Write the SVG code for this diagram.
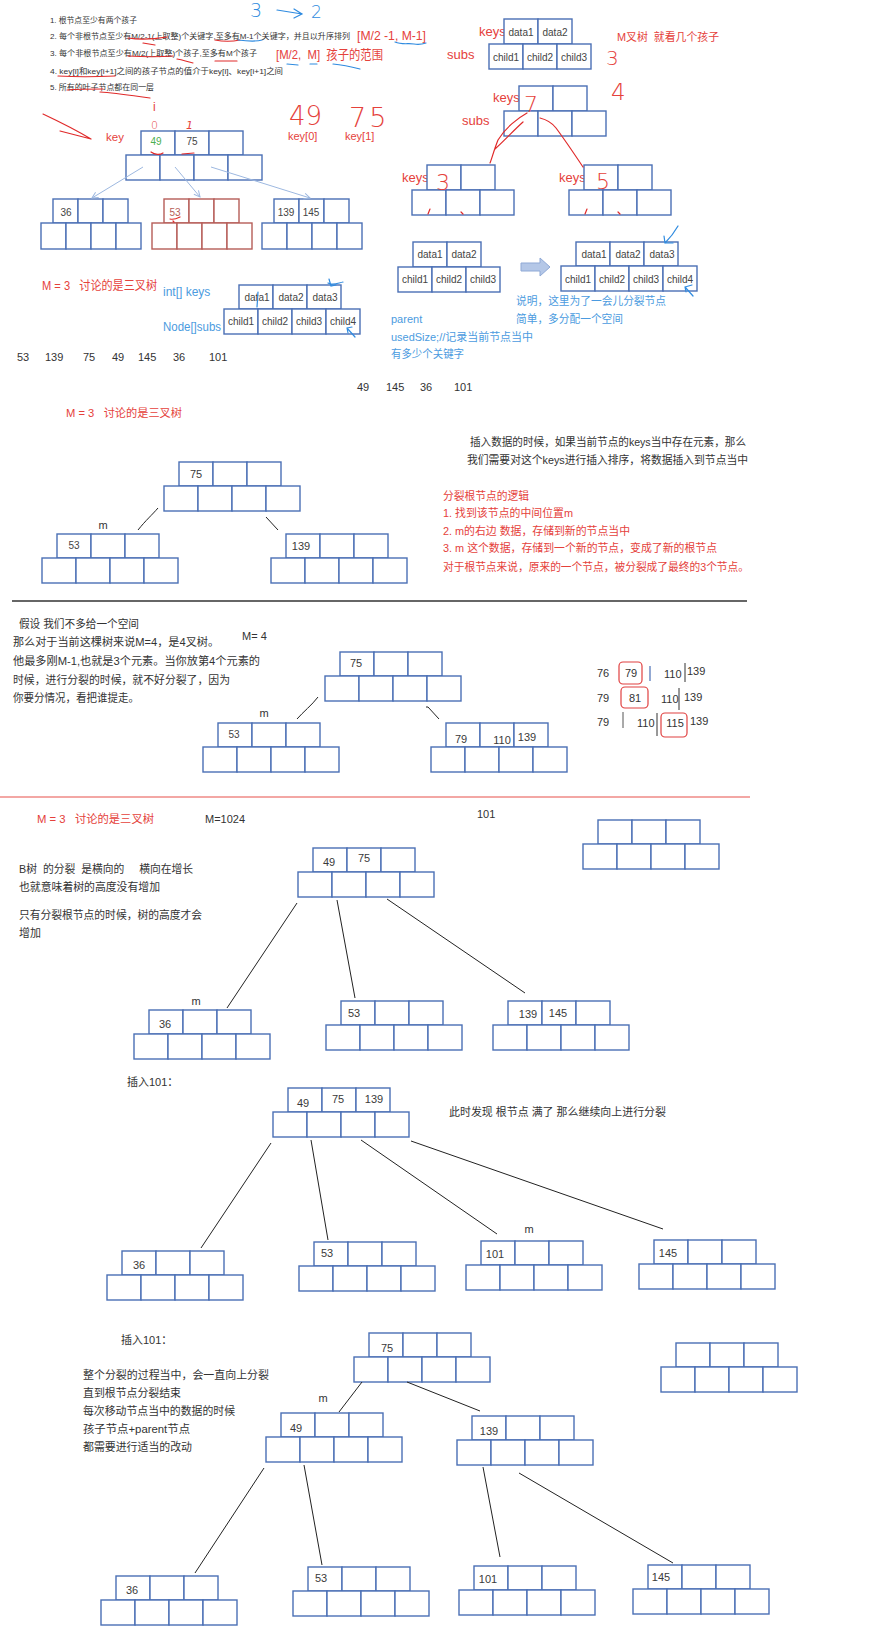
<svg xmlns="http://www.w3.org/2000/svg" width="890" height="1640" viewBox="0 0 890 1640">
<style>
text{font-family:'Liberation Sans','Noto Sans CJK SC',sans-serif;}
.d{fill:#333;font-size:11px}
.g{fill:#333;font-size:8px}
.r{fill:#e5413b}
.bl{fill:#4b9be0}
.hw{font-family:'DejaVu Sans','Liberation Sans',sans-serif;font-weight:200}
.nb{stroke:#4a6fb5;stroke-width:1.4}
.nr{stroke:#b65d58;stroke-width:1.4}
.v{font-size:11px;fill:#3a3a3a;text-anchor:middle}
.s{font-size:10px;fill:#444;text-anchor:middle}
.hr{fill:none;stroke:#e02a2a;stroke-width:1.2;stroke-linecap:round}
.hb{fill:none;stroke:#2f8be0;stroke-width:1.2;stroke-linecap:round}
.cn{fill:none;stroke:#222;stroke-width:1}
.ca{fill:none;stroke:#9db8e0;stroke-width:1}
.rb{fill:none;stroke:#e04040;stroke-width:1.2}
</style>
<defs>
<g id="n34" fill="#fff">
<rect x="15" y="0" width="34" height="24"/><rect x="49" y="0" width="34" height="24"/><rect x="83" y="0" width="34" height="24"/>
<rect x="0" y="24" width="34" height="25"/><rect x="34" y="24" width="34" height="25"/><rect x="68" y="24" width="34" height="25"/><rect x="102" y="24" width="34" height="25"/>
</g>
<g id="n23" fill="#fff">
<rect x="15" y="0" width="34" height="25"/><rect x="49" y="0" width="34" height="25"/>
<rect x="0" y="25" width="34" height="25"/><rect x="34" y="25" width="34" height="25"/><rect x="68" y="25" width="34" height="25"/>
</g>
<g id="n34s" fill="#fff">
<rect x="12" y="0" width="25" height="24"/><rect x="37" y="0" width="25" height="24"/><rect x="62" y="0" width="25" height="24"/>
<rect x="0" y="24" width="25" height="26"/><rect x="25" y="24" width="25" height="26"/><rect x="50" y="24" width="25" height="26"/><rect x="75" y="24" width="25" height="26"/>
</g>
<marker id="ah" markerWidth="8" markerHeight="8" refX="7" refY="4" orient="auto" markerUnits="userSpaceOnUse">
<path d="M1,1 L7,4 L1,7" fill="none" stroke="#9db8e0" stroke-width="1"/>
</marker>
</defs>
<rect width="890" height="1640" fill="#fff"/>

<!-- ===== top-left rules ===== -->
<g id="rules">
<text class="g" x="50" y="22.5" textLength="87" lengthAdjust="spacingAndGlyphs">1. 根节点至少有两个孩子</text>
<text class="g" x="50" y="38.5" font-size="7.7" textLength="300" lengthAdjust="spacingAndGlyphs">2. 每个非根节点至少有M/2-1(上取整)个关键字,至多有M-1个关键字，并且以升序排列</text>
<text class="g" x="50" y="55.5" textLength="207" lengthAdjust="spacingAndGlyphs">3. 每个非根节点至少有M/2(上取整)个孩子,至多有M个孩子</text>
<text class="g" x="50" y="73.5" textLength="233" lengthAdjust="spacingAndGlyphs">4. key[i]和key[i+1]之间的孩子节点的值介于key[i]、key[i+1]之间</text>
<text class="g" x="50" y="89.5" textLength="104" lengthAdjust="spacingAndGlyphs">5. 所有的叶子节点都在同一层</text>
<text class="r" x="357" y="40" font-size="13" textLength="69" lengthAdjust="spacingAndGlyphs">[M/2 -1, M-1]</text>
<text class="r" x="276" y="59" font-size="13" textLength="107" lengthAdjust="spacingAndGlyphs">[M/2,&#160; M]&#160; 孩子的范围</text>
<text class="hw" fill="#2f8be0" x="250" y="17" font-size="19">3</text>
<text class="hw" fill="#2f8be0" x="311" y="18" font-size="17">2</text>
<path class="hb" d="M277,10 L302,14 M294,9 L302,14 L294,18"/>
<path class="hr" d="M128,38 C140,40 155,39 167,37 M143,43 L155,45 M215,40 C225,42 235,41 240,40"/>
<path class="hb" d="M238,40 C246,41 255,42 262,40"/>
<path class="hr" d="M128,56 C145,57 160,57 173,56 M177,59 C183,60 188,62 193,63 M215,61 L237,61"/>
<path class="hr" d="M58,76 C75,77 95,77 115,76"/>
<path class="hr" d="M67,90 C80,89 92,89 103,89 M100,92 C115,93 135,96 150,98"/>
<path class="hb" d="M395,42 C402,45 408,43 414,44 C419,45 423,44 426,43"/>
<path class="hb" d="M287,64 L298,65 M310,64 L317,64 M333,64 C343,65 352,67 360,69"/>
</g>

<!-- ===== top-left annotations ===== -->
<g id="tl-annot">
<path class="hr" d="M43,114 C60,122 76,130 91,139 M60,131 L91,139"/>
<text class="r" x="106" y="141" font-size="11.5">key</text>
<text class="r" x="153" y="111" font-size="12">i</text>
<text class="r hw" x="151" y="129" font-size="11">0</text>
<text class="r hw" x="186" y="129" font-size="11" font-style="italic">1</text>
<text class="r hw" x="289" y="125" font-size="26">49</text>
<text class="r hw" x="349" y="127" font-size="27" letter-spacing="3">75</text>
<text class="r" x="288" y="140" font-size="11">key[0]</text>
<text class="r" x="345" y="140" font-size="11">key[1]</text>
</g>

<!-- ===== top-left tree ===== -->
<g id="tl-root"><use href="#n34" x="126" y="131" class="nb"/>
<text class="s" x="156" y="145" style="fill:#4caf50">49</text><text class="s" x="192" y="145">75</text>
<path class="hr" d="M151,152 C155,155 160,155 163,153 M182,154 L194,153"/></g>
<g id="tl-c1"><use href="#n34s" x="41" y="199" class="nb"/><text class="s" x="66" y="215.5" font-size="9.5">36</text></g>
<g id="tl-c2"><use href="#n34s" x="152" y="199" class="nr"/><text class="s" x="175" y="215.5" font-size="9.5" style="fill:#b65d58">53</text>
<path class="hr" d="M170,219 C174,220 178,218 180,217 M173,221 L174,222"/></g>
<g id="tl-c3"><use href="#n34s" x="262" y="199" class="nb"/><text class="s" x="286" y="215.5" font-size="9.5">139</text><text class="s" x="311" y="215.5" font-size="9.5">145</text></g>

<!-- ===== section 1 node structure ===== -->
<g id="s1-text">
<text class="r" x="42" y="290" font-size="12" textLength="115" lengthAdjust="spacingAndGlyphs">M = 3&#160;&#160; 讨论的是三叉树</text>
<text class="bl" x="163" y="296" font-size="12">int[] keys</text>
<text class="bl" x="163" y="331" font-size="12" textLength="58" lengthAdjust="spacingAndGlyphs">Node[]subs</text>
<g class="d" font-size="11">
<text x="17" y="361">53</text><text x="45" y="361">139</text><text x="83" y="361">75</text><text x="112" y="361">49</text><text x="138" y="361">145</text><text x="173" y="361">36</text><text x="209" y="361">101</text>
<text x="357" y="391">49</text><text x="386" y="391">145</text><text x="420" y="391">36</text><text x="454" y="391">101</text>
</g>
</g>
<g id="node-keys4"><use href="#n34" x="224" y="285" class="nb"/>
<text class="s" x="257" y="300.5">data1</text><text class="s" x="291" y="300.5">data2</text><text class="s" x="325" y="300.5">data3</text>
<text class="s" x="241" y="325">child1</text><text class="s" x="275" y="325">child2</text><text class="s" x="309" y="325">child3</text><text class="s" x="343" y="325">child4</text>
<path class="hb" d="M258,292 L257,307 M328,283 C333,286 338,283 343,282 M329,279 L331,286 L336,285 M347,328 L355,337 M347,328 L348,333 M347,328 L352,327"/></g>

<!-- ===== top-right ===== -->
<g id="tr-text">
<text class="r" x="479" y="36" font-size="13">keys</text>
<text class="r" x="447" y="59" font-size="13">subs</text>
<text class="r" x="617" y="41" font-size="11.5" textLength="102" lengthAdjust="spacingAndGlyphs">M叉树&#160; 就看几个孩子</text>
<text class="r hw" x="606" y="65" font-size="20">3</text>
<text class="r hw" x="611" y="100" font-size="23">4</text>
<text class="r" x="493" y="102" font-size="13">keys</text>
<text class="r" x="462" y="125" font-size="13">subs</text>
<text class="r" x="402" y="182" font-size="13">keys</text>
<text class="r" x="559" y="182" font-size="13">keys</text>
</g>
<g id="tr-a"><use href="#n23" x="489" y="19" class="nb"/>
<text class="s" x="521" y="35.5">data1</text><text class="s" x="555" y="35.5">data2</text>
<text class="s" x="506" y="60.5">child1</text><text class="s" x="540" y="60.5">child2</text><text class="s" x="574" y="60.5">child3</text></g>
<g id="tr-b"><use href="#n23" x="504" y="86" class="nb"/><text class="r hw" x="524" y="112" font-size="22">7</text></g>
<g id="tr-c"><use href="#n23" x="412" y="165" class="nb"/><text class="r hw" x="436" y="190" font-size="22">3</text>
<path class="hr" d="M428,214 L430,209 M461,212 L463,214"/></g>
<g id="tr-d"><use href="#n23" x="569" y="165" class="nb"/><text class="r hw" x="596" y="189" font-size="22">5</text>
<path class="hr" d="M585,214 L587,209 M618,212 L620,214"/></g>
<path class="hr" d="M527,113 C518,118 505,128 498,140 C494,150 492,158 490,163 M523,122 C514,130 505,140 495,149 M540,118 C548,120 553,124 556,128 C565,140 575,155 583,167"/>

<g id="tr-e"><use href="#n23" x="398" y="242" class="nb"/>
<text class="s" x="430" y="258">data1</text><text class="s" x="464" y="258">data2</text>
<text class="s" x="415" y="283">child1</text><text class="s" x="449" y="283">child2</text><text class="s" x="483" y="283">child3</text></g>
<polygon id="block-arrow" points="521,263 540,263 540,258 550,267 540,276 540,271 521,271" fill="#b4c7e7" stroke="#8fa9d6" stroke-width="1"/>
<g id="tr-f"><use href="#n34" x="561" y="242" class="nb"/>
<text class="s" x="594" y="258">data1</text><text class="s" x="628" y="258">data2</text><text class="s" x="662" y="258">data3</text>
<text class="s" x="578" y="283">child1</text><text class="s" x="612" y="283">child2</text><text class="s" x="646" y="283">child3</text><text class="s" x="680" y="283">child4</text>
<path class="hb" d="M678,226 C674,233 670,238 665,243 M664,236 L665,243 L673,243 M685,287 L693,296 M685,287 L686,292 M685,287 L692,285"/></g>
<g id="tr-notes" font-size="11">
<text class="bl" x="516" y="305" textLength="150" lengthAdjust="spacingAndGlyphs">说明，这里为了一会儿分裂节点</text>
<text class="bl" x="516" y="323" textLength="107" lengthAdjust="spacingAndGlyphs">简单，多分配一个空间</text>
<text class="bl" x="391" y="323">parent</text>
<text class="bl" x="391" y="341" textLength="142" lengthAdjust="spacingAndGlyphs">usedSize;//记录当前节点当中</text>
<text class="bl" x="391" y="358" textLength="73" lengthAdjust="spacingAndGlyphs">有多少个关键字</text>
</g>

<!-- ===== section 2 ===== -->
<g id="s2-text" font-size="11">
<text class="r" x="66" y="417" textLength="116" lengthAdjust="spacingAndGlyphs">M = 3&#160;&#160; 讨论的是三叉树</text>
<text class="d" x="470" y="446" textLength="276" lengthAdjust="spacingAndGlyphs">插入数据的时候，如果当前节点的keys当中存在元素，那么</text>
<text class="d" x="467" y="464" textLength="281" lengthAdjust="spacingAndGlyphs">我们需要对这个keys进行插入排序，将数据插入到节点当中</text>
<text class="r" x="443" y="500" textLength="86" lengthAdjust="spacingAndGlyphs">分裂根节点的逻辑</text>
<text class="r" x="443" y="517" textLength="130" lengthAdjust="spacingAndGlyphs">1. 找到该节点的中间位置m</text>
<text class="r" x="443" y="535" textLength="187" lengthAdjust="spacingAndGlyphs">2. m的右边 数据，存储到新的节点当中</text>
<text class="r" x="443" y="552" textLength="274" lengthAdjust="spacingAndGlyphs">3. m 这个数据，存储到一个新的节点，变成了新的根节点</text>
<text class="r" x="443" y="571" textLength="306" lengthAdjust="spacingAndGlyphs">对于根节点来说，原来的一个节点，被分裂成了最终的3个节点。</text>
<text class="d" x="103" y="529" text-anchor="middle">m</text>
</g>
<g id="s2-root"><use href="#n34" x="164" y="462" class="nb"/><text class="v" x="196" y="478">75</text></g>
<g id="s2-l"><use href="#n34" x="42" y="534" class="nb"/><text class="s" x="74" y="549" font-size="9">53</text></g>
<g id="s2-r"><use href="#n34" x="271" y="534" class="nb"/><text class="v" x="301" y="550">139</text></g>

<!-- ===== section 3 ===== -->
<line id="hr-black" x1="12" y1="601" x2="747" y2="601" stroke="#333" stroke-width="1.5"/>
<g id="s3-text" class="d">
<text x="16" y="628" textLength="123" lengthAdjust="spacingAndGlyphs">&#160;假设 我们不多给一个空间</text>
<text x="13" y="646" textLength="206" lengthAdjust="spacingAndGlyphs">那么对于当前这棵树来说M=4，是4叉树。</text>
<text x="13" y="665" textLength="247" lengthAdjust="spacingAndGlyphs">他最多刚M-1,也就是3个元素。当你放第4个元素的</text>
<text x="13" y="684" textLength="217" lengthAdjust="spacingAndGlyphs">时候，进行分裂的时候，就不好分裂了，因为</text>
<text x="13" y="702" textLength="126" lengthAdjust="spacingAndGlyphs">你要分情况，看把谁提走。</text>
<text x="242" y="640">M= 4</text>
<text x="264" y="717" text-anchor="middle">m</text>
</g>
<g id="s3-root"><use href="#n34" x="325" y="652" class="nb"/><text class="v" x="356" y="667">75</text></g>
<g id="s3-l"><use href="#n34" x="203" y="723" class="nb"/><text class="s" x="234" y="738" font-size="9">53</text></g>
<g id="s3-r"><use href="#n34" x="431" y="723" class="nb"/><text class="v" x="461" y="743">79</text><text class="v" x="502" y="744">110</text><text class="v" x="527" y="741">139</text></g>
<g id="s3-seq" class="d">
<text x="597" y="677">76</text>
<rect class="rb" x="619" y="662" width="23" height="22" rx="4"/><text x="631" y="677" text-anchor="middle">79</text>
<line x1="650" y1="666" x2="650" y2="681" stroke="#4a6fb5" stroke-width="1.2"/>
<text x="664" y="678">110</text><line x1="685" y1="663" x2="685" y2="682" stroke="#333" stroke-width="1"/>
<text x="687" y="675">139</text>
<text x="597" y="702">79</text>
<rect class="rb" x="621" y="687" width="27" height="21" rx="4"/><text x="635" y="702" text-anchor="middle">81</text>
<text x="661" y="703">110</text><line x1="679" y1="688" x2="679" y2="710" stroke="#333" stroke-width="1"/>
<text x="684" y="701">139</text>
<text x="597" y="726">79</text><line x1="623" y1="712" x2="623" y2="728" stroke="#555" stroke-width="1"/>
<text x="637" y="727">110</text><line x1="657" y1="713" x2="657" y2="736" stroke="#333" stroke-width="1"/>
<rect class="rb" x="661" y="713" width="26" height="24" rx="4"/><text x="675" y="727" text-anchor="middle">115</text>
<text x="690" y="725">139</text>
</g>
<line id="hr-red" x1="0" y1="797" x2="750" y2="797" stroke="#e8504a" stroke-width="1.2"/>

<!-- ===== section 4 ===== -->
<g id="s4-text" font-size="11">
<text class="r" x="37" y="823" textLength="117" lengthAdjust="spacingAndGlyphs">M = 3&#160;&#160; 讨论的是三叉树</text>
<text class="d" x="205" y="823">M=1024</text>
<text class="d" x="477" y="818">101</text>
<text class="d" x="19" y="873" textLength="174" lengthAdjust="spacingAndGlyphs">B树&#160; 的分裂&#160; 是横向的&#160;&#160;&#160;&#160; 横向在增长</text>
<text class="d" x="19" y="891" textLength="141" lengthAdjust="spacingAndGlyphs">也就意味着树的高度没有增加</text>
<text class="d" x="19" y="919" textLength="183" lengthAdjust="spacingAndGlyphs">只有分裂根节点的时候，树的高度才会</text>
<text class="d" x="19" y="937">增加</text>
<text class="d" x="196" y="1005" text-anchor="middle">m</text>
</g>
<g id="s4-empty"><use href="#n34" x="583" y="820" class="nb"/></g>
<g id="s4-root"><use href="#n34" x="298" y="848" class="nb"/><text class="v" x="329" y="866">49</text><text class="v" x="364" y="862">75</text></g>
<g id="s4-c1"><use href="#n34" x="134" y="1010" class="nb"/><text class="v" x="165" y="1028">36</text></g>
<g id="s4-c2"><use href="#n34" x="326" y="1001" class="nb"/><text class="v" x="354" y="1017">53</text></g>
<g id="s4-c3"><use href="#n34" x="493" y="1001" class="nb"/><text class="v" x="528" y="1018">139</text><text class="v" x="558" y="1017">145</text></g>

<!-- ===== section 5 ===== -->
<g id="s5-text" font-size="11">
<text class="d" x="127" y="1086">插入101：</text>
<text class="d" x="449" y="1116" textLength="217" lengthAdjust="spacingAndGlyphs">此时发现 根节点 满了 那么继续向上进行分裂</text>
<text class="d" x="529" y="1233" text-anchor="middle">m</text>
</g>
<g id="s5-root"><use href="#n34" x="273" y="1088" class="nb"/><text class="v" x="303" y="1107">49</text><text class="v" x="338" y="1103">75</text><text class="v" x="374" y="1103">139</text></g>
<g id="s5-c1"><use href="#n34" x="107" y="1251" class="nb"/><text class="v" x="139" y="1269">36</text></g>
<g id="s5-c2"><use href="#n34" x="299" y="1242" class="nb"/><text class="v" x="327" y="1257">53</text></g>
<g id="s5-c3"><use href="#n34" x="466" y="1241" class="nb"/><text class="v" x="495" y="1258">101</text></g>
<g id="s5-c4"><use href="#n34" x="639" y="1240" class="nb"/><text class="v" x="668" y="1257">145</text></g>

<!-- ===== section 6 ===== -->
<g id="s6-text" font-size="11">
<text class="d" x="121" y="1344">插入101：</text>
<text class="d" x="83" y="1379" textLength="186" lengthAdjust="spacingAndGlyphs">整个分裂的过程当中，会一直向上分裂</text>
<text class="d" x="83" y="1397" textLength="98" lengthAdjust="spacingAndGlyphs">直到根节点分裂结束</text>
<text class="d" x="83" y="1415" textLength="152" lengthAdjust="spacingAndGlyphs">每次移动节点当中的数据的时候</text>
<text class="d" x="83" y="1433" textLength="107" lengthAdjust="spacingAndGlyphs">孩子节点+parent节点</text>
<text class="d" x="83" y="1451" textLength="109" lengthAdjust="spacingAndGlyphs">都需要进行适当的改动</text>
<text class="d" x="323" y="1402" text-anchor="middle">m</text>
</g>
<g id="s6-root"><use href="#n34" x="354" y="1333" class="nb"/><text class="v" x="387" y="1352">75</text></g>
<g id="s6-empty"><use href="#n34" x="661" y="1343" class="nb"/></g>
<g id="s6-n49"><use href="#n34" x="266" y="1413" class="nb"/><text class="v" x="296" y="1432">49</text></g>
<g id="s6-n139"><use href="#n34" x="457" y="1416" class="nb"/><text class="v" x="489" y="1435">139</text></g>
<g id="s6-l36"><use href="#n34" x="101" y="1576" class="nb"/><text class="v" x="132" y="1594">36</text></g>
<g id="s6-l53"><use href="#n34" x="293" y="1567" class="nb"/><text class="v" x="321" y="1582">53</text></g>
<g id="s6-l101"><use href="#n34" x="459" y="1566" class="nb"/><text class="v" x="488" y="1583">101</text></g>
<g id="s6-l145"><use href="#n34" x="633" y="1565" class="nb"/><text class="v" x="661" y="1581">145</text></g>

<!-- ===== connectors ===== -->
<g id="connectors">
<path class="ca" d="M143,167 L92,198" marker-end="url(#ah)"/>
<path class="ca" d="M175,167 L200,197" marker-end="url(#ah)"/>
<path class="ca" d="M211,167 L310,198" marker-end="url(#ah)"/>
<path class="cn" d="M158,508 C152,515 146,520 138,530 M266,517 L278,530"/>
<path class="cn" d="M318,697 C312,705 303,712 297,719 M426,707 L428,707 L439,719"/>
<path class="cn" d="M297,903 L227,1008 M337,900 L355,998 M387,899 L525,993"/>
<path class="cn" d="M271,1143 L201,1248 M311,1140 L328,1240 M361,1140 L497,1234 M411,1141 L663,1229"/>
<path class="cn" d="M362,1382 L339,1412 M407,1382 L480,1411"/>
<path class="cn" d="M264,1468 L195,1573 M304,1465 L322,1565 M483,1467 L500,1557 M519,1473 L673,1563"/>
</g>
</svg>
